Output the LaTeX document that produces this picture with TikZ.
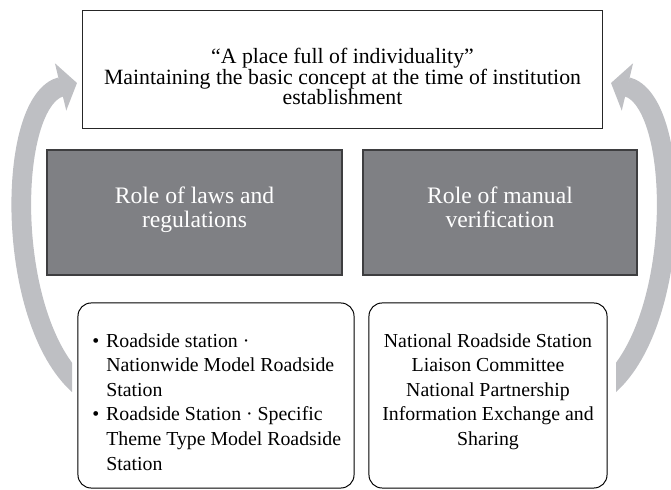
\documentclass[tikz,border=0pt]{standalone}
\usepackage{fontspec}
\setmainfont{Liberation Serif}
\usetikzlibrary{arrows.meta}
\def\totalwidth{671}
\def\totalheight{490}
\definecolor{rolegray}{RGB}{127,128,132}
\definecolor{roleedge}{RGB}{62,62,64}
\definecolor{arrowgray}{RGB}{190,191,195}
\newcommand\conceptfont{\fontsize{15.5pt}{14.9pt}\selectfont}
\newcommand\rolefont{\fontsize{16.8pt}{17.1pt}\selectfont}
\newcommand\detailfont{\fontsize{14.1pt}{17.5pt}\selectfont}
\newcommand\lift{\rule{0pt}{1em}}
\newcommand\hang{\phantom{\textbullet}\hspace{5pt}}
\tikzstyle{concept}              = [draw=black!85,line width=0.7pt,
                                    minimum width=12.975cm,minimum height=2.925cm,
                                    inner sep=0pt]
\tikzstyle{role}                 = [draw=roleedge,fill=rolegray,line width=1pt,
                                    minimum height=3.125cm,inner sep=0pt]
\tikzstyle{detail}               = [draw=black,line width=0.7pt,rounded corners=0.33cm,
                                    minimum height=4.625cm,inner sep=0pt]
\tikzstyle{words}                = [inner sep=0pt,anchor=north]
\tikzset{cycle/.style={draw=arrowgray,line width=14pt,
                       -{Triangle[length=12pt,width=34pt]}}
}

\begin{document}
\begin{tikzpicture}[x=0.025cm,y=-0.025cm]
        \useasboundingbox (0,0) rectangle (\totalwidth,\totalheight);

        % Side arrows
        \coordinate (lefttail)  at (80,386);
        \coordinate (lefthead)  at (77,83);
        \coordinate (righttail) at (608,386);
        \coordinate (righthead) at (611,83);
        \begin{scope}
            \clip (0,0) -- (200,0) -- (200,300) -- (72,300) -- (72,\totalheight) -- (0,\totalheight) -- cycle;
            \draw[cycle] (lefttail) .. controls (4,320) and (6,100) .. (lefthead);
        \end{scope}
        \begin{scope}
            \clip (\totalwidth,0) -- (488,0) -- (488,300) -- (616,300) -- (616,\totalheight) -- (\totalwidth,\totalheight) -- cycle;
            \draw[cycle] (righttail) .. controls (684,320) and (682,100) .. (righthead);
        \end{scope}

        % Top box
        \node[concept] (vision) at (342.5,69.5) {};
        \node[words,align=center,font=\conceptfont] (visiontext) at (342.5,41) {\lift``A place full of individuality''\\
            Maintaining the basic concept at the time of institution\\
            establishment};

        % Role boxes
        \node[role,minimum width=7.375cm] (laws) at (194.5,212.5) {};
        \node[role,minimum width=6.85cm] (manual) at (500,212.5) {};
        \node[words,align=center,font=\rolefont,text=white] (lawstext) at (laws.center|-0,180) {\lift Role of laws and\\regulations};
        \node[words,align=center,font=\rolefont,text=white] (manualtext) at (manual.center|-0,180) {\lift Role of manual\\verification};

        % Detail boxes
        \node[detail,minimum width=6.9cm] (stations) at (216,395.5) {};
        \node[detail,minimum width=5.95cm] (liaison) at (488,395.5) {};
        \node[words,anchor=north west,align=left,font=\detailfont] (stationstext) at (92,327) {\lift\textbullet\hspace{5pt}Roadside station ·\\
            \hang Nationwide Model Roadside\\
            \hang Station\\
            \textbullet\hspace{5pt}Roadside Station · Specific\\
            \hang Theme Type Model Roadside\\
            \hang Station};
        \node[words,align=center,font=\detailfont] (liaisontext) at (liaison.center|-0,327) {\lift National Roadside Station\\
            Liaison Committee\\
            National Partnership\\
            Information Exchange and\\
            Sharing};
    \end{tikzpicture}
\end{document}
